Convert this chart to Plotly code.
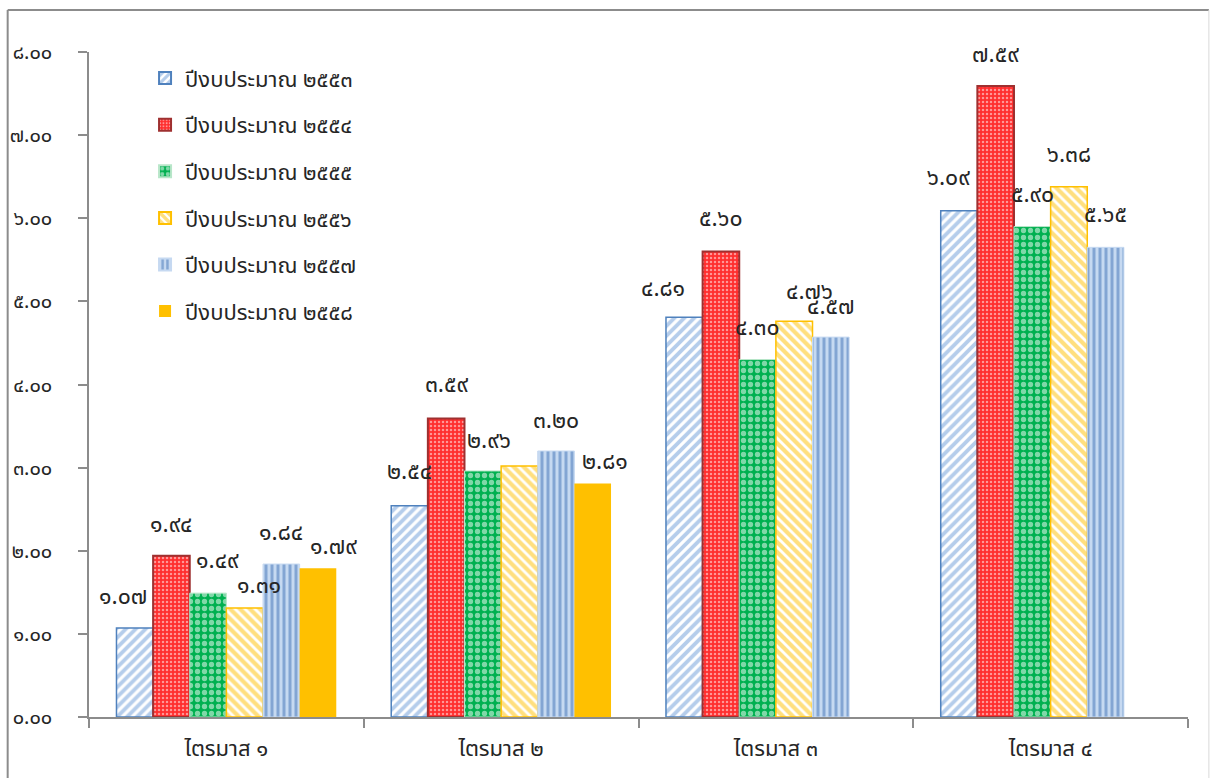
import plotly.graph_objects as go

# Quarterly disbursement by fiscal year
quarters = ["ไตรมาส ๑", "ไตรมาส ๒", "ไตรมาส ๓", "ไตรมาส ๔"]
series_names = [
    "ปีงบประมาณ ๒๕๕๓",
    "ปีงบประมาณ ๒๕๕๔",
    "ปีงบประมาณ ๒๕๕๕",
    "ปีงบประมาณ ๒๕๕๖",
    "ปีงบประมาณ ๒๕๕๗",
    "ปีงบประมาณ ๒๕๕๘",
]
fy2553 = [1.07, 2.54, 4.81, 6.09]
fy2554 = [1.94, 3.59, 5.60, 7.59]
fy2555 = [1.49, 2.96, 4.30, 5.90]
fy2556 = [1.31, 3.02, 4.76, 6.38]
fy2557 = [1.84, 3.20, 4.57, 5.65]
fy2558 = [1.79, 2.81, None, None]
series_values = [fy2553, fy2554, fy2555, fy2556, fy2557, fy2558]

# which value labels are shown (one label is not drawn)
label_shown = [
    [True, True, True, True],
    [True, True, True, True],
    [True, True, True, True],
    [True, False, True, True],
    [True, True, True, True],
    [True, True, False, False],
]

y_ticks = [0, 1, 2, 3, 4, 5, 6, 7, 8]

THAI_DIGITS = str.maketrans("0123456789", "๐๑๒๓๔๕๖๗๘๙")


def thai_num(v):
    return f"{v:.2f}".translate(THAI_DIGITS)


styles = [
    dict(pattern=dict(shape="/", fgcolor="#6C9BD8", bgcolor="white", size=7, solidity=0.55),
         line=dict(color="#4F81BD", width=1.5)),
    dict(pattern=dict(shape=".", fgcolor="white", bgcolor="#FF2E2E", size=4, solidity=0.3),
         line=dict(color="#9E3030", width=2)),
    dict(pattern=dict(shape=".", fgcolor="white", bgcolor="#00B050", size=7, solidity=0.45),
         line=dict(color="#B8E6C9", width=1)),
    dict(pattern=dict(shape="\\", fgcolor="#FFC000", bgcolor="white", size=7, solidity=0.6),
         line=dict(color="#FFC000", width=1.5)),
    dict(pattern=dict(shape="|", fgcolor="#3F72B5", bgcolor="#C6D9F1", size=6, solidity=0.5),
         line=dict(color="#C6D9F1", width=1)),
    dict(pattern=None, color="#FFC000", line=dict(color="#FFC000", width=0)),
]

FONT = "Tahoma, 'Noto Sans Thai', 'Noto Sans', sans-serif"
TXT = "#262626"

fig = go.Figure()
for name, vals, st in zip(series_names, series_values, styles):
    marker = dict(line=st["line"])
    if st.get("pattern"):
        marker["color"] = st["pattern"]["bgcolor"]
        marker["pattern"] = st["pattern"]
    else:
        marker["color"] = st["color"]
    fig.add_trace(go.Bar(
        x=quarters, y=vals, name=name, marker=marker,
        legendgroup=name, hoverinfo="skip",
    ))

# value-label nudges in pixels (dx, height of label centre above bar top)
label_nudge = {
    (0, 0): (-12, 31), (2, 0): (9, 32), (3, 0): (14, 22), (5, 0): (16, 21),
    (0, 1): (0, 34), (1, 1): (0, 34), (2, 1): (6, 30), (4, 1): (0, 30), (5, 1): (12, 21),
    (0, 2): (-21, 28), (1, 2): (0, 33), (2, 2): (0, 32), (3, 2): (15, 29), (4, 2): (0, 30),
    (0, 3): (-11, 33), (2, 3): (0, 32), (3, 3): (0, 32), (4, 3): (0, 32),
}

BARGAP = 0.2
n_series = len(series_names)
bar_w = (1 - BARGAP) / n_series
annotations = []
for si, vals in enumerate(series_values):
    for qi, v in enumerate(vals):
        if v is None or not label_shown[si][qi]:
            continue
        dx, dy = label_nudge.get((si, qi), (0, 31))
        xpos = qi - (1 - BARGAP) / 2 + (si + 0.5) * bar_w
        annotations.append(dict(
            x=xpos, y=v, xref="x", yref="y", text=thai_num(v), showarrow=False,
            xshift=dx, yshift=dy, yanchor="middle", xanchor="center",
            font=dict(family=FONT, size=23, color=TXT),
        ))

fig.update_layout(
    width=1210, height=778,
    margin=dict(l=89, r=22, t=52, b=61),
    paper_bgcolor="white", plot_bgcolor="white",
    barmode="group", bargap=BARGAP, bargroupgap=0,
    font=dict(family=FONT, size=22, color=TXT),
    annotations=annotations,
    showlegend=True,
    legend=dict(
        x=0.051, y=0.992, xanchor="left", yanchor="top",
        bgcolor="rgba(0,0,0,0)", font=dict(family=FONT, size=22, color=TXT),
        tracegroupgap=15, itemsizing="constant",
    ),
)

fig.update_yaxes(
    range=[0, 8], tickvals=y_ticks, ticktext=[thai_num(t) for t in y_ticks],
    showgrid=False, zeroline=False, showline=True, linecolor="#8C8C8C", linewidth=1.5,
    ticks="outside", ticklen=9, tickcolor="#8C8C8C", tickwidth=1.5, automargin=False,
    ticklabelstandoff=22, tickfont=dict(family=FONT, size=20, color=TXT),
)
fig.update_xaxes(
    type="category", showgrid=False, showline=True, linecolor="#8C8C8C", linewidth=1.5,
    ticks="outside", tickson="boundaries", ticklen=9, tickcolor="#8C8C8C", tickwidth=1.5,
    automargin=False, ticklabelstandoff=11, tickfont=dict(family=FONT, size=22, color=TXT),
)

# chart frame
fig.add_shape(type="line", xref="paper", yref="paper", x0=-0.074, x1=-0.074, y0=-0.2, y1=1.063,
              line=dict(color="#8C8C8C", width=2))
fig.add_shape(type="line", xref="paper", yref="paper", x0=-0.074, x1=1.019, y0=1.063, y1=1.063,
              line=dict(color="#8C8C8C", width=2))
fig.add_shape(type="line", xref="paper", yref="paper", x0=1.019, x1=1.019, y0=-0.2, y1=1.063,
              line=dict(color="#D9D9D9", width=1))

fig.write_html("out.html")
